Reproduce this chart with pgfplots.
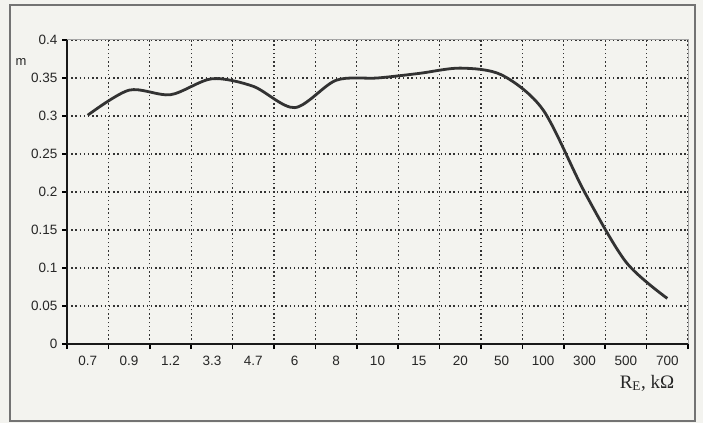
\documentclass[border=0pt]{standalone}
\usepackage{pgfplots}
\pgfplotsset{compat=1.18}
\usepackage{fontspec}
\setmainfont{Liberation Sans}
\newfontfamily\seriffont{Liberation Serif}
\definecolor{bg}{RGB}{243,243,239}
\definecolor{curve}{RGB}{50,50,50}
\begin{document}
\begin{tikzpicture}[x=1pt,y=1pt]
\useasboundingbox (0,0) rectangle (703,423);
\fill[bg] (0,0) rectangle (703,423);
\draw[line width=1.5pt, black!55] (10,2) rectangle (695,418);
\begin{axis}[
  at={(67pt,79pt)}, anchor=south west,
  scale only axis, width=621pt, height=304pt,
  xmin=-0.5, xmax=14.5, ymin=0, ymax=0.4,
  axis x line*=bottom, axis y line*=left,
  axis line style={-, line width=2.2pt, black!90},
  xtick={0,...,14},
  xticklabels={0.7,0.9,1.2,3.3,4.7,6,8,10,15,20,50,100,300,500,700},
  minor xtick={-0.5,0.5,...,14.5},
  ytick={0,0.05,0.1,0.15,0.2,0.25,0.3,0.35,0.4},
  yticklabels={0,0.05,0.1,0.15,0.2,0.25,0.3,0.35,0.4},
  major x tick style={draw=none},
  minor x tick style={line width=1.5pt, black},
  y tick style={line width=1.5pt, black},
  minor tick length=5pt, major tick length=5pt,
  tick align=outside,
  xtick pos=lower, ytick pos=left,
  xminorgrids, ymajorgrids,
  grid style={line width=1.3pt, black!80, dash pattern=on 1.4pt off 2.8pt},
  minor grid style={line width=1.3pt, black!80, dash pattern=on 1.4pt off 2.8pt},
  tick label style={font=\fontsize{13.5}{15}\selectfont, black!85},
  xticklabel style={yshift=-4pt},
  yticklabel style={xshift=-1pt},
  /pgf/number format/assume math mode=true,
  clip=false,
]
\draw[black!35, line width=1pt] (rel axis cs:0,1) -- (rel axis cs:1,1) -- (rel axis cs:1,0);
\addplot[curve, line width=2.8pt, smooth, tension=0.5, mark=none] coordinates {
(0,0.301) (1,0.334) (2,0.328) (3,0.349) (4,0.339) (5,0.311) (6,0.347)
(7,0.350) (8,0.356) (9,0.363) (10,0.354) (11,0.308) (12,0.200) (13,0.108) (14,0.060)
};
\end{axis}
\node[font=\fontsize{13}{15}\selectfont, black!85] at (21,361) {m};
\node[font=\seriffont\fontsize{19}{22}\selectfont, black!85] at (647,40) {R\textsubscript{E}, kΩ};
\end{tikzpicture}
\end{document}
